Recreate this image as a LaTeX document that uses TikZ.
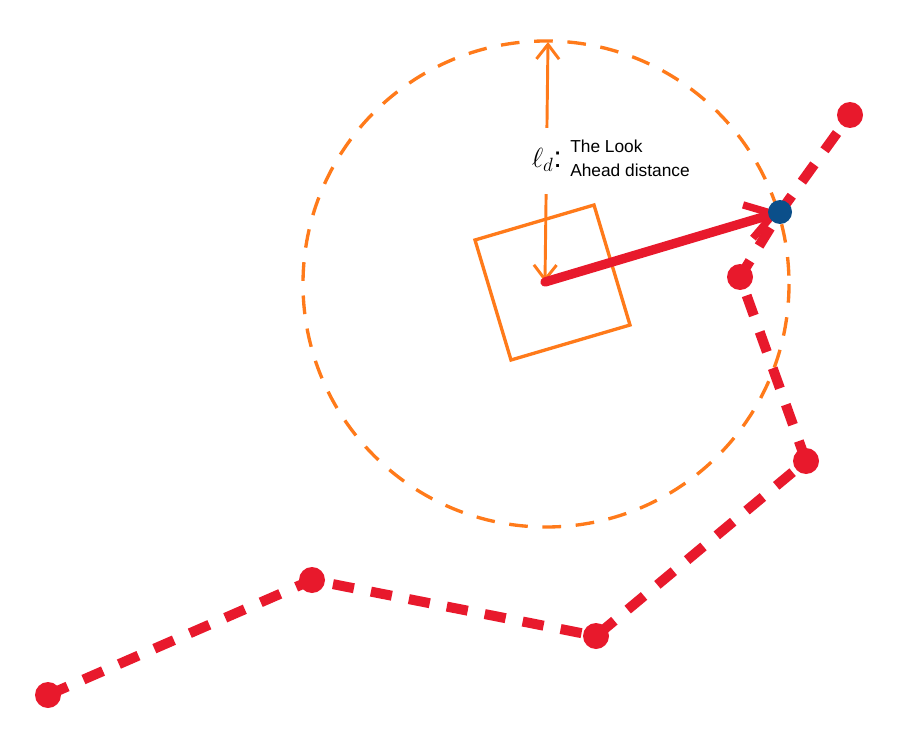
\documentclass[tikz,border=0pt]{standalone}
\usepackage{fontspec}
\setmainfont{Liberation Sans}
\usetikzlibrary{arrows.meta}
\definecolor{lorange}{HTML}{FF7A1A}
\definecolor{lred}{HTML}{E8192C}
\definecolor{lblue}{HTML}{0B4F8A}
\begin{document}
\begin{tikzpicture}[x=0.75pt,y=-0.75pt,
  lookcircle/.style={draw=lorange,line width=2.5pt,dash pattern=on 14pt off 11pt},
  robot/.style={draw=lorange,line width=2.5pt,line join=miter},
  dimarrow/.style={draw=lorange,line width=2.2pt,{Straight Barb[length=11pt,width=17pt,line width=2.2pt]}-{Straight Barb[length=11pt,width=17pt,line width=2.2pt]}},
  patharrow/.style={draw=lred,line width=7pt,line cap=round,-{Straight Barb[length=20pt,width=26pt,line width=5.5pt]}},
  pathdash/.style={draw=lred,line width=7.5pt,dash pattern=on 16pt off 13pt},
  waypt/.style={fill=lred,draw=none},
  goalpt/.style={fill=lblue,draw=none}]
\useasboundingbox (0,0) rectangle (911,735);
% robot square
\coordinate (r1) at (475,240);
\coordinate (r2) at (594,205);
\coordinate (r3) at (630,325);
\coordinate (r4) at (511,360);
\coordinate (rc) at (545,282);
\coordinate (ctop) at (548,42);
\coordinate (goal) at (780,212);
% waypoints
\coordinate (w1) at (48,695);
\coordinate (w2) at (312,580);
\coordinate (w3) at (596,636);
\coordinate (w4) at (806,461);
\coordinate (w5) at (740,277);
\coordinate (w6) at (850,115);
% look-ahead circle
\draw[lookcircle] (546,284) circle[radius=243];
\draw[robot] (r1) -- (r2) -- (r3) -- (r4) -- cycle;
% path
\draw[pathdash] (w1) -- (w2) -- (w3) -- (w4) -- (w5) -- (goal) -- (w6);
% dimension arrow with label gap
\draw[dimarrow] (ctop) -- (rc);
\fill[white] (518,128) rectangle (575,194);
\node[anchor=east,inner sep=0pt] (ld) at (562,160) {\fontsize{22}{22}\selectfont$\ell_{d}$:};
\node[anchor=west,inner sep=0pt,align=left,font=\fontsize{13}{18}\selectfont] (lbl) at (570,158) {The Look\\Ahead distance};
% carrot arrow
\draw[patharrow] (rc) -- (goal);
% points
\foreach \p in {w1,w2,w3,w4,w5,w6} \fill[waypt] (\p) circle[radius=13];
\fill[goalpt] (goal) circle[radius=12];
\end{tikzpicture}
\end{document}
